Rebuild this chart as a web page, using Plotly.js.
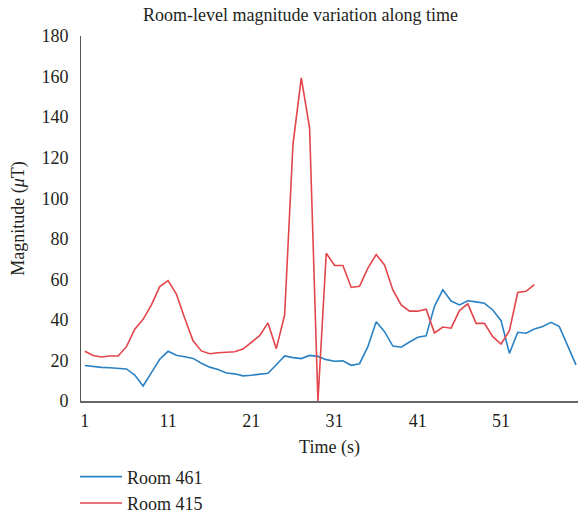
<!DOCTYPE html>
<html>
<head>
<meta charset="utf-8">
<script src="https://cdn.plot.ly/plotly-3.0.1.min.js"></script>
<style>html,body{margin:0;padding:0;background:#fff;}#chart{width:578px;height:518px;}</style>
</head>
<body>
<div id="chart"></div>
<script>
const titleText = "Room-level magnitude variation along time";
const xTitle = "Time (s)";
const yTitle = "Magnitude (<i>μ</i>T)";
const seriesNames = ["Room 461", "Room 415"];
const xTickVals = [1, 11, 21, 31, 41, 51];
const xTickText = ["1", "11", "21", "31", "41", "51"];

const room461 = [17.5, 16.9, 16.6, 16.4, 16.2, 15.8, 12.8, 7.4, 14.0, 20.6,
  24.5, 22.6, 21.8, 21.0, 18.6, 16.7, 15.5, 13.8, 13.4, 12.4,
  12.7, 13.1, 13.7, 17.9, 22.2, 21.4, 20.9, 22.5, 22.0, 20.4,
  19.6, 19.8, 17.6, 18.4, 26.8, 39.1, 34.2, 27.1, 26.5, 29.1,
  31.4, 32.1, 46.7, 54.8, 49.3, 47.4, 49.4, 48.9, 48.2, 44.9,
  39.6, 23.5, 33.9, 33.4, 35.5, 36.7, 38.8, 36.7, 26.8, 17.8];

const room415 = [24.5, 22.4, 21.7, 22.2, 22.2, 26.8, 35.4, 40.3, 47.4, 56.4,
  59.4, 52.7, 40.8, 29.7, 24.7, 23.3, 23.8, 24.0, 24.3, 25.6,
  28.8, 32.2, 38.5, 25.8, 42.4, 126.4, 159.3, 134.6, 0, 72.9,
  66.8, 66.8, 56.0, 56.6, 65.5, 72.2, 67.1, 54.8, 47.4, 44.3,
  44.3, 45.3, 33.6, 36.5, 35.9, 44.6, 47.9, 38.3, 38.3, 31.7,
  28.1, 34.7, 53.5, 54.1, 57.4];

const t461 = room461.map((_, i) => i + 1);
const t415 = room415.map((_, i) => i + 1);

const serif = "Liberation Serif";
const ink = "#231f20";
const fnt = {family: serif, size: 18, color: ink};

const traces = [
  {x: t461, y: room461, name: seriesNames[0], type: "scatter", mode: "lines",
   line: {color: "#2a82c4", width: 1.6}},
  {x: t415, y: room415, name: seriesNames[1], type: "scatter", mode: "lines",
   line: {color: "#e2454b", width: 1.6}}
];

const layout = {
  width: 578, height: 518,
  margin: {l: 81, r: 0, t: 36, b: 117, pad: 0},
  paper_bgcolor: "#fff", plot_bgcolor: "#fff",
  font: fnt,
  title: {text: titleText, font: fnt,
          x: 0.52, xref: "container", xanchor: "center", y: 0.971, yref: "container", yanchor: "middle"},
  xaxis: {range: [0.54, 60.24], tickvals: xTickVals, ticktext: xTickText,
          showgrid: false, zeroline: false, showline: true, linecolor: "#666", linewidth: 2,
          ticks: "", ticklabelstandoff: 2, automargin: false,
          tickfont: fnt,
          title: {text: xTitle, font: fnt, standoff: 14}},
  yaxis: {range: [0, 180], dtick: 20, showgrid: false, zeroline: false, automargin: false,
          showline: true, linecolor: "#555", linewidth: 1, ticks: "", ticklabelstandoff: 8,
          tickfont: fnt,
          title: {text: yTitle, font: fnt, standoff: 12}},
  showlegend: true,
  legend: {orientation: "v", x: -0.012, xanchor: "left", y: 0.115, yref: "container", yanchor: "top",
           font: fnt, bgcolor: "rgba(0,0,0,0)", tracegroupgap: 8, itemwidth: 42}
};

Plotly.newPlot("chart", traces, layout, {displayModeBar: false, staticPlot: true});
</script>
</body>
</html>
